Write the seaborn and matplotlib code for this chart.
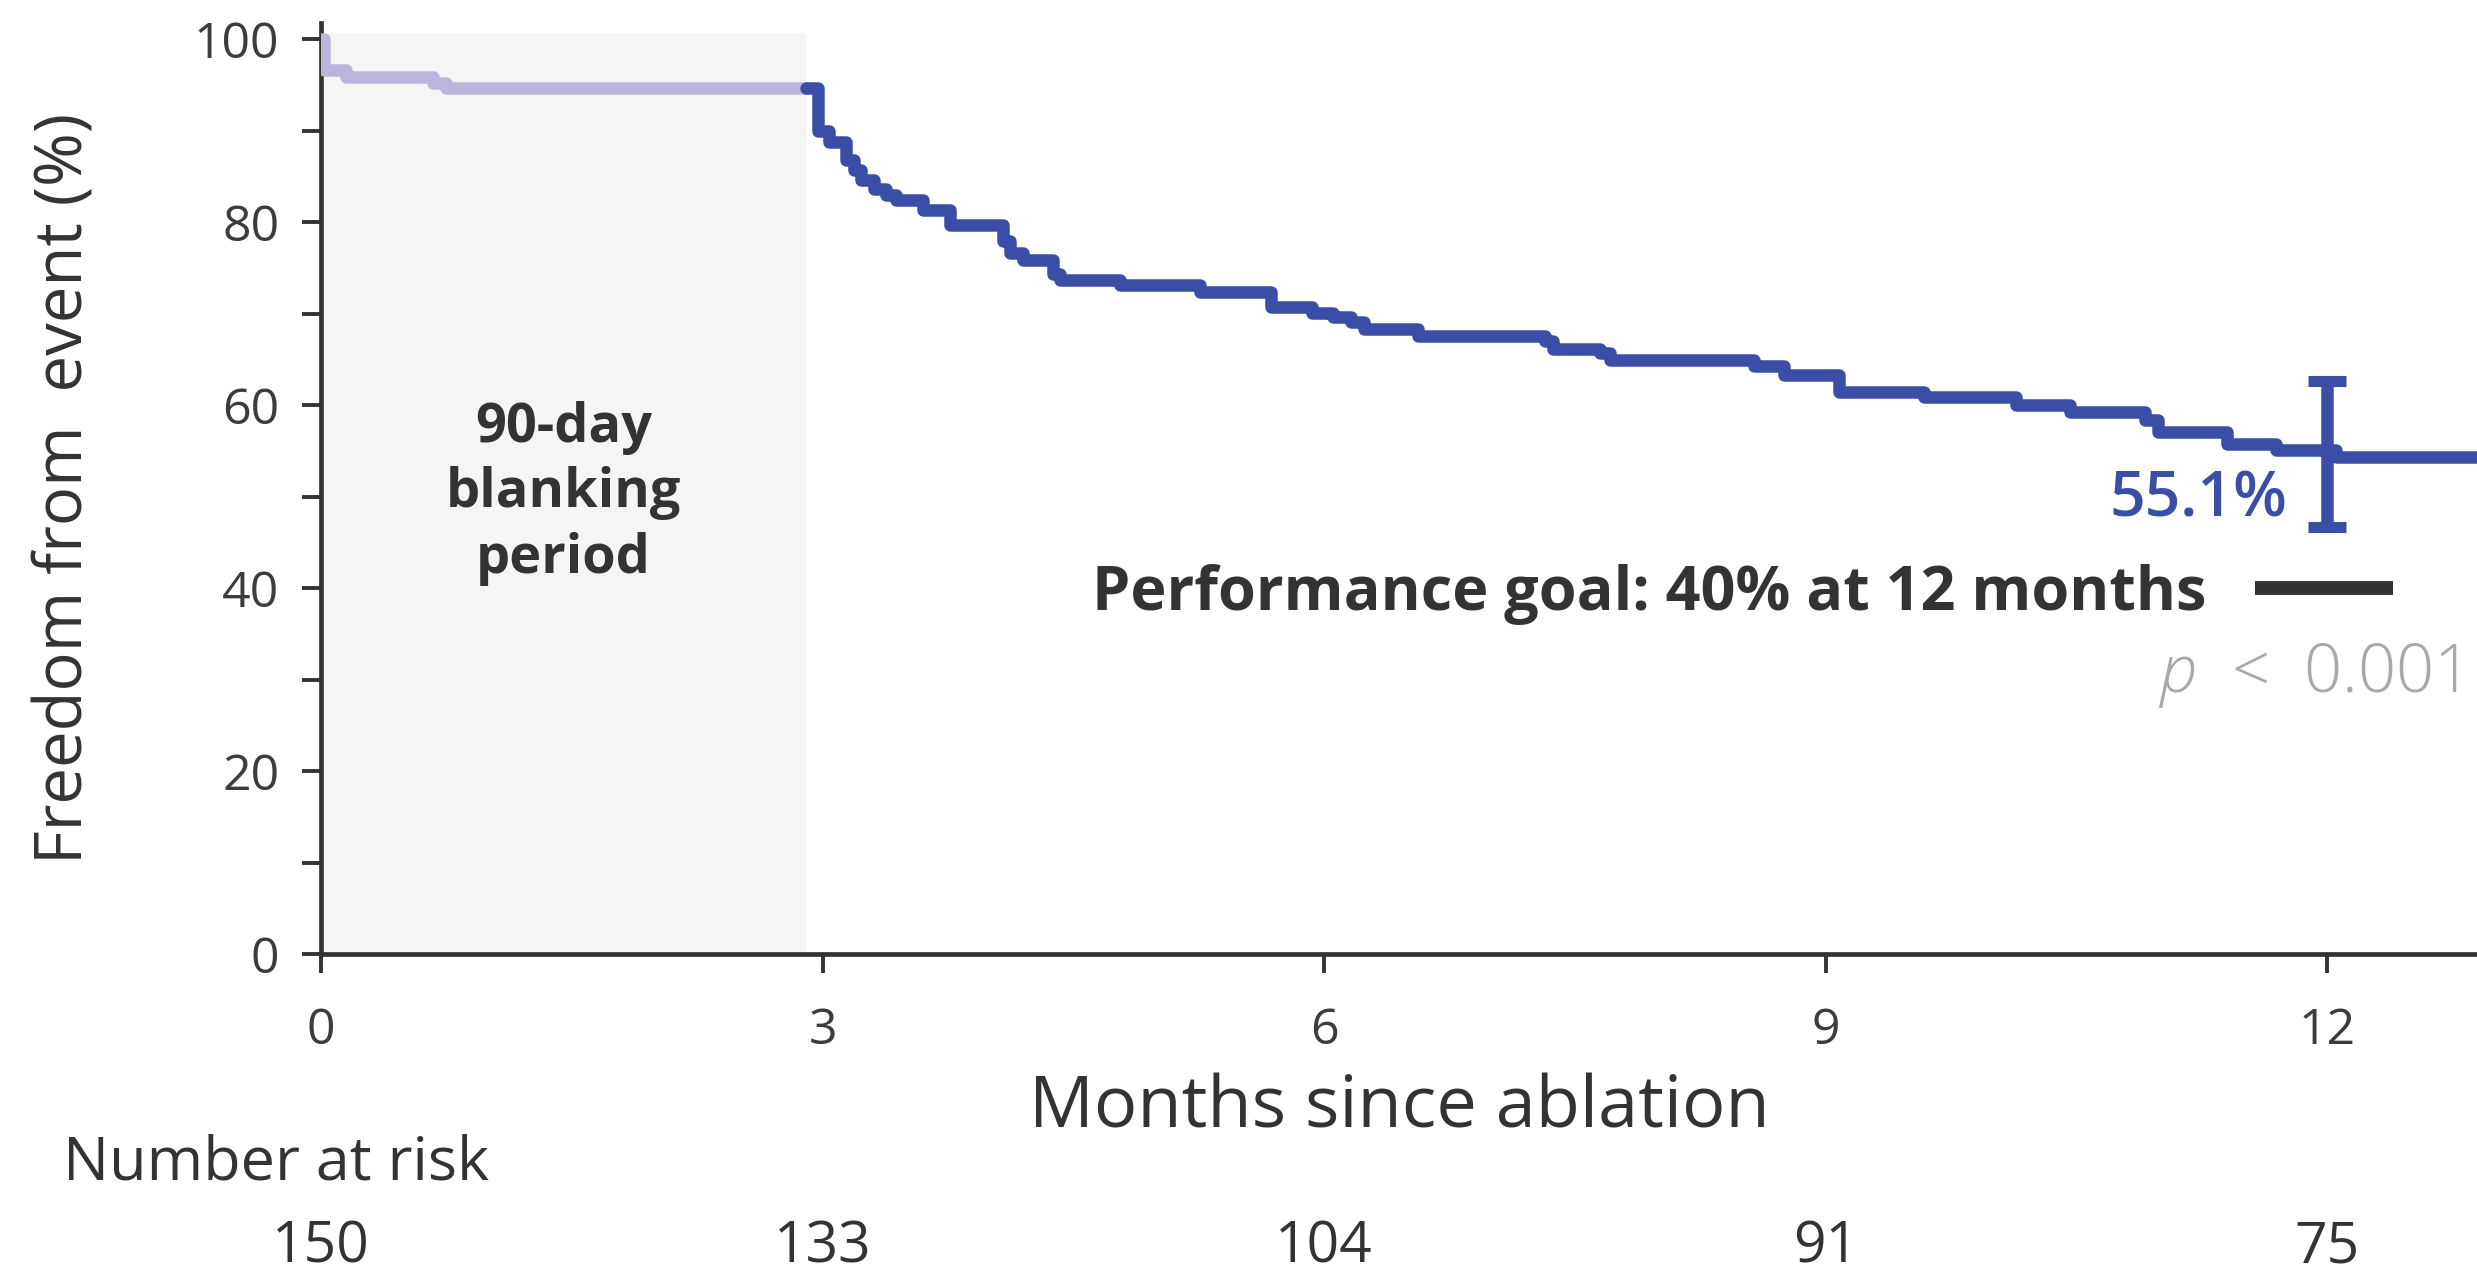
import matplotlib
matplotlib.use("Agg")
import matplotlib.pyplot as plt
import matplotlib.transforms as mtransforms
import seaborn as sns
import pandas as pd

# ---------------- data ----------------
blank_months = [0, 0.02, 0.15, 0.67, 0.75, 2.90]
blank_surv = [100, 96.7, 95.9, 95.2, 94.7, 94.7]

post_months = [2.90, 2.97, 3.04, 3.14, 3.19, 3.23, 3.31, 3.38, 3.44, 3.60,
               3.76, 4.08, 4.12, 4.20, 4.38, 4.42, 4.78, 5.26, 5.68, 5.93,
               6.05, 6.16, 6.24, 6.56, 7.32, 7.37, 7.65, 7.71, 8.57, 8.75,
               9.08, 9.59, 10.14, 10.46, 10.91, 10.99, 11.40, 11.69, 12.05, 12.90]
post_surv = [94.7, 90.0, 88.8, 86.8, 85.7, 84.6, 83.7, 83.0, 82.4, 81.3,
             79.7, 78.0, 76.6, 75.9, 74.4, 73.7, 73.2, 72.4, 70.8, 70.1,
             69.6, 69.1, 68.3, 67.6, 67.0, 66.2, 65.7, 65.0, 64.3, 63.3,
             61.5, 60.9, 60.0, 59.3, 58.4, 57.1, 55.8, 55.1, 54.3, 54.3]

est_month = 12
est_value = 55.1
ci_low = 46.7
ci_high = 62.7

goal_value = 40
goal_month_start = 11.57
goal_month_end = 12.39

risk_months = [0, 3, 6, 9, 12]
risk_counts = [150, 133, 104, 91, 75]

x_ticks = [0, 3, 6, 9, 12]
y_ticks = [0, 20, 40, 60, 80, 100]
y_minor = [10, 30, 50, 70, 90]

# ---------------- style ----------------
sns.set_theme(style="ticks")
plt.rcParams["font.family"] = ["Open Sans", "DejaVu Sans"]
plt.rcParams["mathtext.fontset"] = "custom"
plt.rcParams["mathtext.it"] = "Open Sans:italic:light"
plt.rcParams["mathtext.rm"] = "Open Sans:light"

BLUE = "#3b4ea6"
LAV = "#bab5dd"
DARK = "#333333"
TICKC = "#3c3c3c"

fig = plt.figure(figsize=(24.77, 12.74), dpi=100)
ax = fig.add_axes([321 / 2477, 1 - 954 / 1274, 1 - 321 / 2477, (954 - 23) / 1274])

ax.axvspan(0, 2.9, ymin=0, ymax=100.7 / 101.8, color="#f4f5f5", zorder=0, lw=0)

df_blank = pd.DataFrame({"month": blank_months, "surv": blank_surv})
df_post = pd.DataFrame({"month": post_months, "surv": post_surv})

sns.lineplot(data=df_blank, x="month", y="surv", ax=ax, color=LAV,
             drawstyle="steps-post", estimator=None, sort=False, lw=9, zorder=3)
sns.lineplot(data=df_post, x="month", y="surv", ax=ax, color=BLUE,
             drawstyle="steps-post", estimator=None, sort=False, lw=9, zorder=4)

ax.errorbar([est_month], [est_value],
            yerr=[[est_value - ci_low], [ci_high - est_value]],
            fmt="none", ecolor=BLUE, elinewidth=9, capsize=14, capthick=8, zorder=5)

ax.plot([goal_month_start, goal_month_end], [goal_value, goal_value],
        color=DARK, lw=10, solid_capstyle="butt", zorder=5)

ax.set_xlim(0, 12.895)
ax.set_ylim(0, 101.8)
ax.set_xticks(x_ticks)
ax.set_yticks(y_ticks)
ax.set_yticks(y_minor, minor=True)
ax.tick_params(axis="both", which="both", direction="out", length=14, width=2.8,
               color=DARK)
ax.tick_params(axis="y", which="major", labelsize=36, pad=16, labelcolor=TICKC)
ax.tick_params(axis="x", which="major", labelsize=36, pad=24, labelcolor=TICKC)
for s in ["top", "right"]:
    ax.spines[s].set_visible(False)
for s in ["left", "bottom"]:
    ax.spines[s].set_color(DARK)
    ax.spines[s].set_linewidth(3.4)

ax.set_xlabel("Months since ablation", fontsize=52, color=DARK)
ax.xaxis.set_label_coords(0.5, -0.128)
ax.set_ylabel("Freedom from  event (%)", fontsize=47, color=DARK)
ax.yaxis.set_label_coords(-0.1034, 0.5)

ax.text(1.45, 50.4, "90-day\nblanking\nperiod", ha="center", va="center",
        fontsize=39, fontweight="bold", color=DARK, linespacing=1.28)
ax.text(11.76, 49.6, f"{est_value}%", ha="right", va="center",
        fontsize=45, fontweight="semibold", color=BLUE)
ax.text(11.28, 39.3, "Performance goal: 40% at 12 months", ha="right",
        va="center", fontsize=44, fontweight="bold", color=DARK)
ax.text(12.78, 30.4, r"$p$  <  0.001", ha="right", va="center",
        fontsize=48, color="#a8a8a8", fontweight="light")

fig.text(63 / 2477, 1 - 1163 / 1274, "Number at risk", ha="left", va="center",
         fontsize=44, color=DARK)
trans = mtransforms.blended_transform_factory(ax.transData, fig.transFigure)
for m, c in zip(risk_months, risk_counts):
    ax.text(m, 1 - 1248 / 1274, str(c), transform=trans, ha="center",
            va="center", fontsize=41, color=DARK, clip_on=False)

fig.savefig("out.png", dpi=100)
